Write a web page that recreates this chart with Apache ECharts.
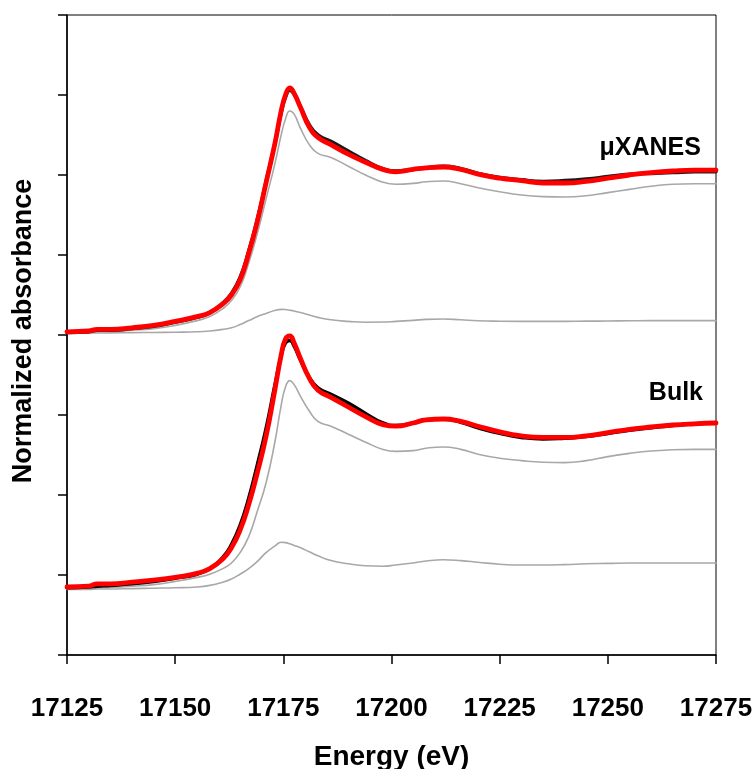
<!DOCTYPE html>
<html>
<head>
<meta charset="utf-8">
<script src="https://cdn.jsdelivr.net/npm/echarts@6/dist/echarts.min.js"></script>
<style>
  html, body { margin: 0; padding: 0; background: #fff; }
  #chart { width: 756px; height: 769px; }
</style>
</head>
<body>
<div id="chart"></div>
<script>
// Shared energy grid (eV)
const energy = [17125, 17130, 17132, 17135, 17140, 17145, 17150, 17155, 17158, 17161, 17163, 17165, 17167, 17169, 17171, 17173, 17174.5, 17175.5, 17176.5, 17177.5, 17179, 17181, 17183, 17186, 17190, 17194, 17198, 17201, 17205, 17208, 17212, 17216, 17220, 17225, 17230, 17235, 17240, 17245, 17250, 17255, 17260, 17265, 17270, 17275];

// μXANES spectrum (offset stack, upper)
const microData = [4.03, 4.04, 4.06, 4.06, 4.08, 4.11, 4.16, 4.22, 4.28, 4.40, 4.52, 4.72, 5.05, 5.45, 5.92, 6.38, 6.78, 6.97, 7.06, 7.01, 6.85, 6.63, 6.50, 6.42, 6.30, 6.18, 6.08, 6.05, 6.07, 6.09, 6.11, 6.08, 6.02, 5.97, 5.94, 5.92, 5.93, 5.95, 5.98, 6.01, 6.02, 6.03, 6.04, 6.04];
const microFit = [4.04, 4.05, 4.07, 4.07, 4.09, 4.12, 4.17, 4.23, 4.28, 4.39, 4.50, 4.69, 5.02, 5.42, 5.90, 6.38, 6.80, 7.00, 7.09, 7.02, 6.84, 6.60, 6.47, 6.38, 6.26, 6.16, 6.07, 6.04, 6.07, 6.09, 6.10, 6.07, 6.01, 5.96, 5.93, 5.90, 5.90, 5.92, 5.96, 6.00, 6.03, 6.05, 6.06, 6.06];
const microCompA = [4.02, 4.03, 4.04, 4.04, 4.06, 4.08, 4.12, 4.18, 4.23, 4.33, 4.43, 4.60, 4.90, 5.27, 5.70, 6.13, 6.50, 6.70, 6.80, 6.76, 6.58, 6.38, 6.27, 6.22, 6.11, 6.00, 5.91, 5.885, 5.895, 5.915, 5.925, 5.89, 5.84, 5.79, 5.75, 5.73, 5.725, 5.74, 5.78, 5.82, 5.86, 5.885, 5.89, 5.89];
const microCompB = [4.025, 4.025, 4.025, 4.027, 4.03, 4.032, 4.035, 4.04, 4.05, 4.07, 4.09, 4.13, 4.18, 4.23, 4.27, 4.305, 4.32, 4.318, 4.31, 4.30, 4.28, 4.25, 4.22, 4.19, 4.17, 4.16, 4.162, 4.17, 4.183, 4.195, 4.20, 4.19, 4.178, 4.172, 4.17, 4.17, 4.17, 4.173, 4.175, 4.178, 4.18, 4.18, 4.18, 4.18];

// Bulk spectrum (offset stack, lower)
const bulkData = [0.84, 0.85, 0.86, 0.87, 0.89, 0.92, 0.96, 1.01, 1.08, 1.22, 1.38, 1.62, 1.96, 2.38, 2.83, 3.36, 3.74, 3.90, 3.93, 3.86, 3.68, 3.47, 3.34, 3.26, 3.15, 3.02, 2.90, 2.87, 2.90, 2.94, 2.95, 2.91, 2.84, 2.77, 2.72, 2.70, 2.71, 2.73, 2.77, 2.81, 2.84, 2.87, 2.89, 2.90];
const bulkFit = [0.85, 0.86, 0.89, 0.89, 0.91, 0.935, 0.97, 1.02, 1.08, 1.20, 1.34, 1.56, 1.88, 2.28, 2.73, 3.30, 3.75, 3.95, 3.99, 3.90, 3.70, 3.46, 3.31, 3.22, 3.10, 2.98, 2.88, 2.86, 2.90, 2.94, 2.95, 2.92, 2.86, 2.79, 2.74, 2.72, 2.72, 2.74, 2.78, 2.82, 2.85, 2.875, 2.89, 2.90];
const bulkCompA = [0.83, 0.835, 0.84, 0.845, 0.86, 0.88, 0.92, 0.97, 1.01, 1.08, 1.15, 1.28, 1.48, 1.80, 2.15, 2.65, 3.12, 3.35, 3.43, 3.38, 3.23, 3.05, 2.92, 2.86, 2.76, 2.66, 2.57, 2.545, 2.555, 2.585, 2.60, 2.57, 2.51, 2.46, 2.43, 2.41, 2.405, 2.43, 2.48, 2.52, 2.55, 2.565, 2.57, 2.57];
const bulkCompB = [0.82, 0.82, 0.825, 0.825, 0.83, 0.835, 0.84, 0.85, 0.87, 0.91, 0.95, 1.01, 1.08, 1.17, 1.28, 1.36, 1.41, 1.405, 1.39, 1.37, 1.34, 1.29, 1.24, 1.18, 1.14, 1.115, 1.11, 1.125, 1.15, 1.175, 1.19, 1.18, 1.16, 1.135, 1.125, 1.125, 1.13, 1.14, 1.145, 1.15, 1.15, 1.15, 1.15, 1.15];

// Axis settings
const xTicks = [17125, 17150, 17175, 17200, 17225, 17250, 17275];
const yMin = 0, yMax = 8, yStep = 1;

// Stack labels: [energy, value, text]
const stackLabels = [[17271.5, 6.33, 'μXANES'], [17272, 3.27, 'Bulk']];

const FONT = '"Liberation Sans", Arial, sans-serif';
const pairs = ys => energy.map((e, i) => [e, ys[i]]);

function line(name, ys, color, width, z) {
  return {
    name, type: 'line', data: pairs(ys), symbol: 'none',
    smooth: 0.5, z,
    lineStyle: { color, width, cap: 'round', join: 'round' },
    emphasis: { disabled: true }
  };
}

const chart = echarts.init(document.getElementById('chart'), null, { renderer: 'canvas' });
chart.setOption({
  animation: false,
  backgroundColor: '#ffffff',
  grid: {
    left: 67, right: 40, top: 15, bottom: 114, outerBoundsMode: 'none', containLabel: false,
    show: true, borderColor: '#000', borderWidth: 1, backgroundColor: 'transparent'
  },
  xAxis: {
    type: 'value', min: xTicks[0], max: xTicks[xTicks.length - 1], interval: 25,
    name: 'Energy (eV)', nameLocation: 'middle', nameGap: 88,
    nameTextStyle: { fontFamily: FONT, fontWeight: 'bold', fontSize: 28, color: '#000' },
    axisLine: { show: true, lineStyle: { color: '#000', width: 1.5 } },
    axisTick: { show: true, inside: false, length: 9, lineStyle: { color: '#000', width: 1.5 } },
    axisLabel: {
      margin: 41, fontFamily: FONT, fontWeight: 'bold', fontSize: 26, color: '#000',
      showMinLabel: true, showMaxLabel: true, formatter: v => String(v)
    },
    splitLine: { show: false }
  },
  yAxis: {
    type: 'value', min: yMin, max: yMax, interval: yStep,
    name: 'Normalized absorbance', nameLocation: 'middle', nameGap: 30,
    nameTextStyle: { fontFamily: FONT, fontWeight: 'bold', fontSize: 27, color: '#000', padding: [0, 0, 0, 8] },
    axisLine: { show: true, lineStyle: { color: '#000', width: 1.5 } },
    axisTick: { show: true, inside: false, length: 9, lineStyle: { color: '#000', width: 1.5 } },
    axisLabel: { show: false },
    splitLine: { show: false }
  },
  series: [
    line('μXANES component 1', microCompA, '#a8a8a8', 1.6, 1),
    line('μXANES component 2', microCompB, '#a8a8a8', 1.6, 1),
    line('Bulk component 1', bulkCompA, '#a8a8a8', 1.6, 1),
    line('Bulk component 2', bulkCompB, '#a8a8a8', 1.6, 1),
    line('μXANES data', microData, '#1a1a1a', 3.5, 2),
    line('Bulk data', bulkData, '#000000', 3.5, 2),
    line('μXANES fit', microFit, '#ff0000', 4.8, 3),
    line('Bulk fit', bulkFit, '#ff0000', 4.8, 3)
  ]
});

// Stack names placed at data coordinates, right-aligned
chart.setOption({
  graphic: stackLabels.map(d => {
    const p = chart.convertToPixel({ gridIndex: 0 }, [d[0], d[1]]);
    return {
      type: 'text', x: p[0], y: p[1], z: 10, silent: true,
      style: {
        text: d[2], fill: '#000', align: 'right', verticalAlign: 'middle',
        font: 'bold 25px ' + FONT
      }
    };
  })
});
</script>
</body>
</html>
